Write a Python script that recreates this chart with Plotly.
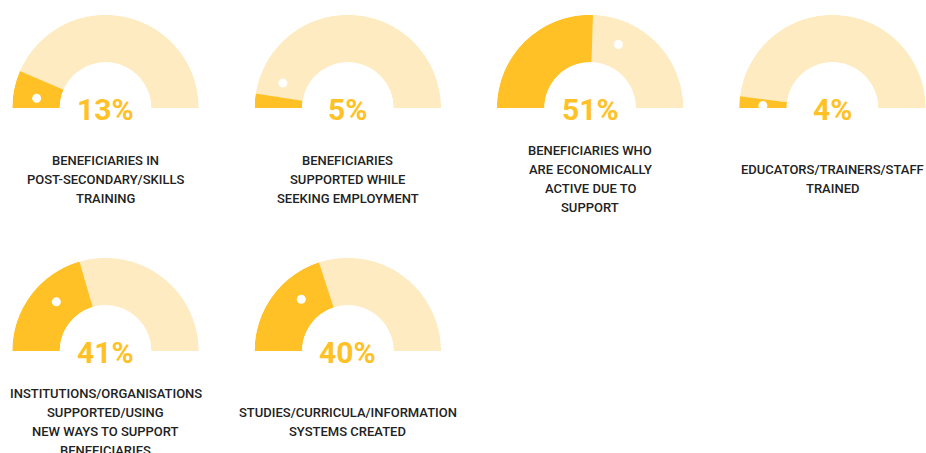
import plotly.graph_objects as go

# Indicator values (percent) and their captions
labels = [
    "BENEFICIARIES IN<br>POST-SECONDARY/SKILLS<br>TRAINING",
    "BENEFICIARIES<br>SUPPORTED WHILE<br>SEEKING EMPLOYMENT",
    "BENEFICIARIES WHO<br>ARE ECONOMICALLY<br>ACTIVE DUE TO<br>SUPPORT",
    "EDUCATORS/TRAINERS/STAFF<br>TRAINED",
    "INSTITUTIONS/ORGANISATIONS<br>SUPPORTED/USING<br>NEW WAYS TO SUPPORT<br>BENEFICIARIES",
    "STUDIES/CURRICULA/INFORMATION<br>SYSTEMS CREATED",
]
percent = [13, 5, 51, 4, 41, 40]
# Position of the decorative marker along each arc (degrees from the left end)
dot_angle = [8, 21, 114, 2, 45, 48]

W, H = 926, 453
GOLD = "#FFC125"
PALE = "#FEEBC1"
R = 93.3           # outer radius (px)
HOLE = 0.49
COL_X0, COL_DX = 105.5, 242.3
ROW_BASE = [108, 351]   # y of the gauge baseline for each row (px from top)
LABEL_OFF = 71          # caption centre below the baseline
LINE_H = 19             # caption line pitch (px)


def clamp(v):
    return min(1.0, max(0.0, v))


fig = go.Figure()
annotations = []
layout_polars = {}

for i, (p, lab, ang) in enumerate(zip(percent, labels, dot_angle)):
    row, col = divmod(i, 4)
    cx = COL_X0 + col * COL_DX
    base = ROW_BASE[row]
    name = "polar" if i == 0 else f"polar{i + 1}"

    layout_polars[name] = dict(
        domain=dict(
            x=[clamp((cx - R) / W), clamp((cx + R) / W)],
            y=[clamp((H - base) / H), clamp((H - base + R) / H)],
        ),
        sector=[0, 180],
        hole=HOLE,
        bgcolor="rgba(0,0,0,0)",
        radialaxis=dict(range=[0, 1], visible=False, showgrid=False),
        angularaxis=dict(visible=False, showgrid=False, rotation=180,
                         direction="clockwise"),
    )

    sweep = p * 1.8
    # remaining (pale) part of the arc
    fig.add_trace(go.Barpolar(
        r=[1], theta=[(sweep + 180) / 2], width=[180 - sweep],
        marker=dict(color=PALE, line=dict(width=0)),
        subplot=name, showlegend=False, hoverinfo="skip",
    ))
    # achieved part of the arc
    fig.add_trace(go.Barpolar(
        r=[1], theta=[sweep / 2], width=[sweep],
        marker=dict(color=GOLD, line=dict(width=0)),
        subplot=name, showlegend=False, name=f"{p}%",
    ))
    fig.add_trace(go.Scatterpolar(
        r=[0.5], theta=[ang], mode="markers",
        marker=dict(color="white", size=9, line=dict(width=0)),
        subplot=name, showlegend=False, hoverinfo="skip",
    ))

    annotations.append(dict(
        x=cx / W, y=(H - base - 1) / H, xref="paper", yref="paper",
        text=f"{p}%", showarrow=False, xanchor="center", yanchor="middle",
        font=dict(family="Roboto", size=30, color=GOLD, weight="bold"),
    ))

    # caption, one annotation per line so the line pitch is fixed
    lines = lab.split("<br>")
    n = len(lines)
    centre = base + LABEL_OFF
    for k, line in enumerate(lines):
        ly = centre + (k - (n - 1) / 2) * LINE_H
        annotations.append(dict(
            x=cx / W, y=(H - ly) / H, xref="paper", yref="paper",
            text=line, showarrow=False, xanchor="center", yanchor="middle",
            font=dict(family="Roboto", size=13, color="#222222", weight=500),
        ))

fig.update_layout(
    width=W, height=H,
    margin=dict(l=0, r=0, t=0, b=0),
    paper_bgcolor="white", plot_bgcolor="white",
    annotations=annotations,
    **layout_polars,
)

fig.write_html("out.html")
